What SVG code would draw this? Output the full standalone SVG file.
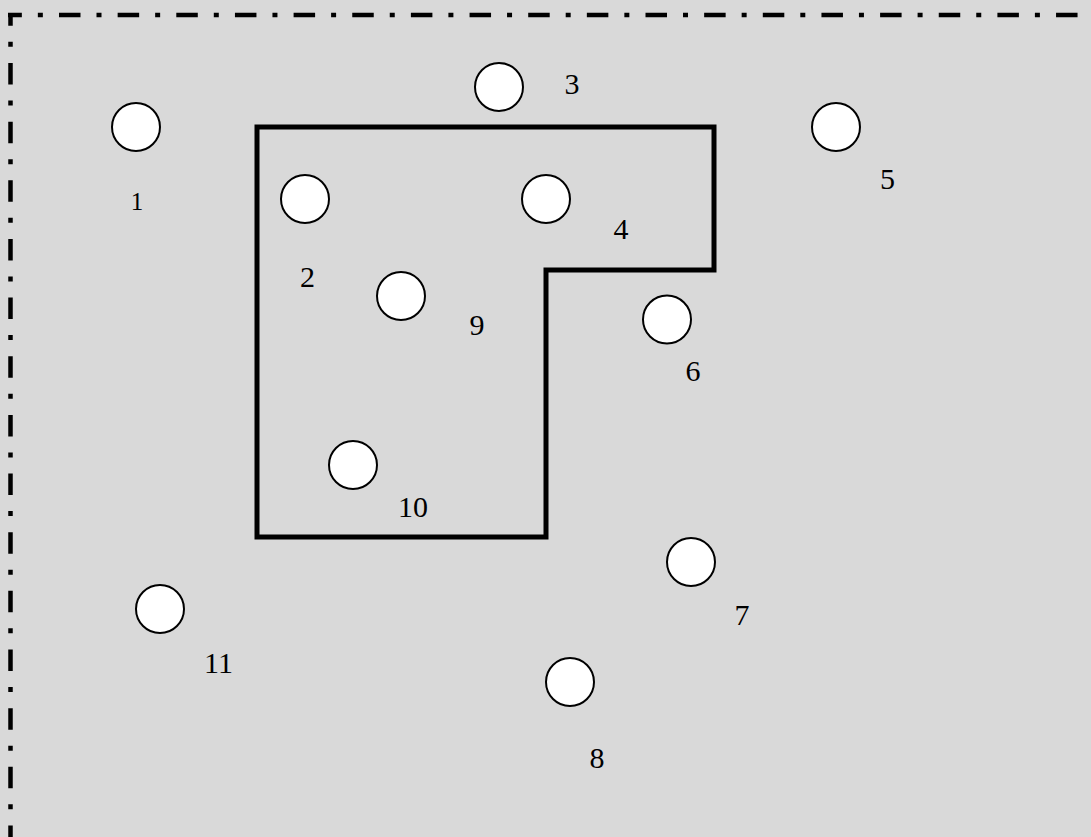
<svg xmlns="http://www.w3.org/2000/svg" width="1091" height="837" viewBox="0 0 1091 837">
  <style>
    .node circle { fill: #ffffff; stroke: #000000; stroke-width: 2; }
    .lbl { font-family: "Liberation Serif", "Times New Roman", serif; font-size: 30px; fill: #000000; text-anchor: middle; }
    .small { font-size: 25px; }
    .border { stroke: #000000; stroke-width: 4.5; fill: none; stroke-dasharray: 21.5 16 5 16.15; }
    .wall { fill: none; stroke: #000000; stroke-width: 5; stroke-linejoin: miter; }
  </style>
  <rect x="0" y="0" width="1091" height="837" fill="#d9d9d9"/>
  <g id="border">
    <line class="border" x1="8" y1="15" x2="1091" y2="15" stroke-dashoffset="7.65"/>
    <line class="border" x1="10.5" y1="13" x2="10.5" y2="837" stroke-dashoffset="8.65"/>
  </g>
  <g id="region">
    <polygon class="wall" points="257,127 714,127 714,270 546,270 546,537 257,537"/>
  </g>
  <g id="connectors"></g>
  <g id="n1" class="node"><circle cx="136" cy="127" r="24"/><text class="lbl small" x="137" y="210">1</text></g>
  <g id="n2" class="node"><circle cx="305" cy="199" r="24"/><text class="lbl" x="307.5" y="287">2</text></g>
  <g id="n3" class="node"><circle cx="499" cy="87" r="24"/><text class="lbl" x="572" y="94">3</text></g>
  <g id="n4" class="node"><circle cx="546" cy="199" r="24"/><text class="lbl" x="621" y="239">4</text></g>
  <g id="n5" class="node"><circle cx="836" cy="127" r="24"/><text class="lbl" x="887.5" y="189">5</text></g>
  <g id="n6" class="node"><circle cx="667" cy="319.5" r="24"/><text class="lbl" x="693" y="381">6</text></g>
  <g id="n7" class="node"><circle cx="691" cy="562" r="24"/><text class="lbl" x="742" y="625">7</text></g>
  <g id="n8" class="node"><circle cx="570" cy="682" r="24"/><text class="lbl" x="597" y="768">8</text></g>
  <g id="n9" class="node"><circle cx="401" cy="296" r="24"/><text class="lbl" x="477" y="335">9</text></g>
  <g id="n10" class="node"><circle cx="353" cy="465" r="24"/><text class="lbl" x="413" y="516.5">10</text></g>
  <g id="n11" class="node"><circle cx="160" cy="609" r="24"/><text class="lbl" x="218.5" y="672.5">11</text></g>
</svg>
